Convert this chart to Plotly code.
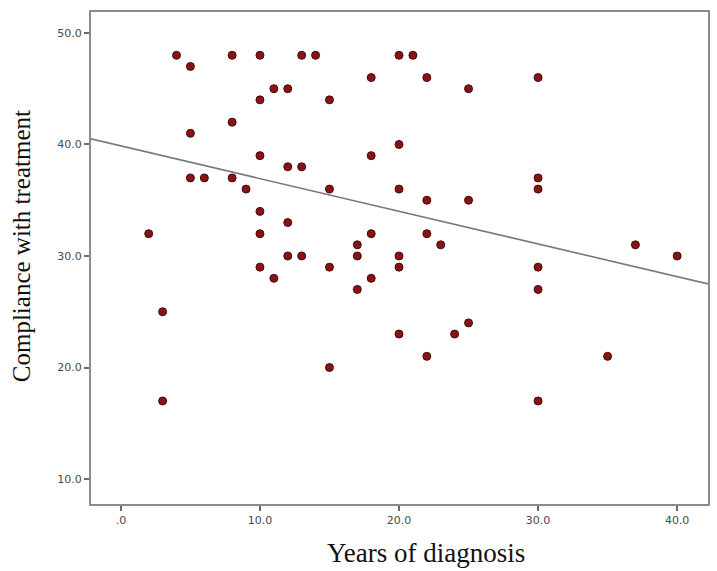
import plotly.graph_objects as go

# Data
years = [4, 8, 10, 13, 14, 20, 21,
         5,
         18, 22, 30,
         11, 12, 25,
         10, 15,
         8,
         5,
         20,
         10, 18,
         12, 13,
         5, 6, 8, 30,
         9, 15, 20, 30,
         22, 25,
         10,
         12,
         2, 10, 18, 22,
         17, 23, 37,
         12, 13, 17, 20, 40,
         10, 15, 20, 30,
         11, 18,
         17, 30,
         3,
         25,
         20, 24,
         22, 35,
         15,
         3, 30]
compliance = [48, 48, 48, 48, 48, 48, 48,
              47,
              46, 46, 46,
              45, 45, 45,
              44, 44,
              42,
              41,
              40,
              39, 39,
              38, 38,
              37, 37, 37, 37,
              36, 36, 36, 36,
              35, 35,
              34,
              33,
              32, 32, 32, 32,
              31, 31, 31,
              30, 30, 30, 30, 30,
              29, 29, 29, 29,
              28, 28,
              27, 27,
              25,
              24,
              23, 23,
              21, 21,
              20,
              17, 17]

# Fit line (intercept at x=0 and slope)
fit_intercept = 39.87
fit_slope = -0.293

x_ticks = [0, 10, 20, 30, 40]
x_tick_labels = [".0", "10.0", "20.0", "30.0", "40.0"]
y_ticks = [10, 20, 30, 40, 50]
y_tick_labels = ["10.0", "20.0", "30.0", "40.0", "50.0"]

x_range = [-2.15, 42.22]
y_range = [7.76, 51.88]

line_x = list(x_range)
line_y = [fit_intercept + fit_slope * v for v in line_x]

fig = go.Figure()
fig.add_trace(go.Scatter(
    x=line_x, y=line_y, mode="lines",
    line=dict(color="#7a7a7a", width=1.6),
    hoverinfo="skip", showlegend=False,
))
fig.add_trace(go.Scatter(
    x=years, y=compliance, mode="markers",
    marker=dict(size=8, color="#861414", line=dict(color="#4a0808", width=1)),
    showlegend=False,
))

tick_font = dict(family="DejaVu Sans", size=11, color="#4a4a4a")
axis_common = dict(
    showgrid=False, zeroline=False,
    showline=True, mirror=True, linecolor="#8c8c8c", linewidth=2,
    ticks="outside", ticklen=5, tickcolor="#6a6a6a", tickwidth=1.5,
    tickfont=tick_font,
)

pw = 717 - 91 - 7
ph = 571 - 12 - 67

fig.update_layout(
    width=717, height=571,
    margin=dict(l=91, r=7, t=12, b=67),
    paper_bgcolor="white", plot_bgcolor="white",
    xaxis=dict(range=x_range, tickvals=x_ticks, ticktext=x_tick_labels, **axis_common),
    yaxis=dict(range=y_range, tickvals=y_ticks, ticktext=y_tick_labels, **axis_common),
    annotations=[
        dict(text="Years of diagnosis", xref="paper", yref="paper",
             x=(427 - 91) / pw, y=(571 - 67 - 553) / ph,
             xanchor="center", yanchor="middle", showarrow=False,
             font=dict(family="Liberation Serif", size=27, color="#111111")),
        dict(text="Compliance with treatment", textangle=-90, xref="paper", yref="paper",
             x=(21 - 91) / pw, y=(571 - 67 - 246) / ph,
             xanchor="center", yanchor="middle", showarrow=False,
             font=dict(family="Liberation Serif", size=25, color="#111111")),
    ],
)

fig.write_html("out.html")
